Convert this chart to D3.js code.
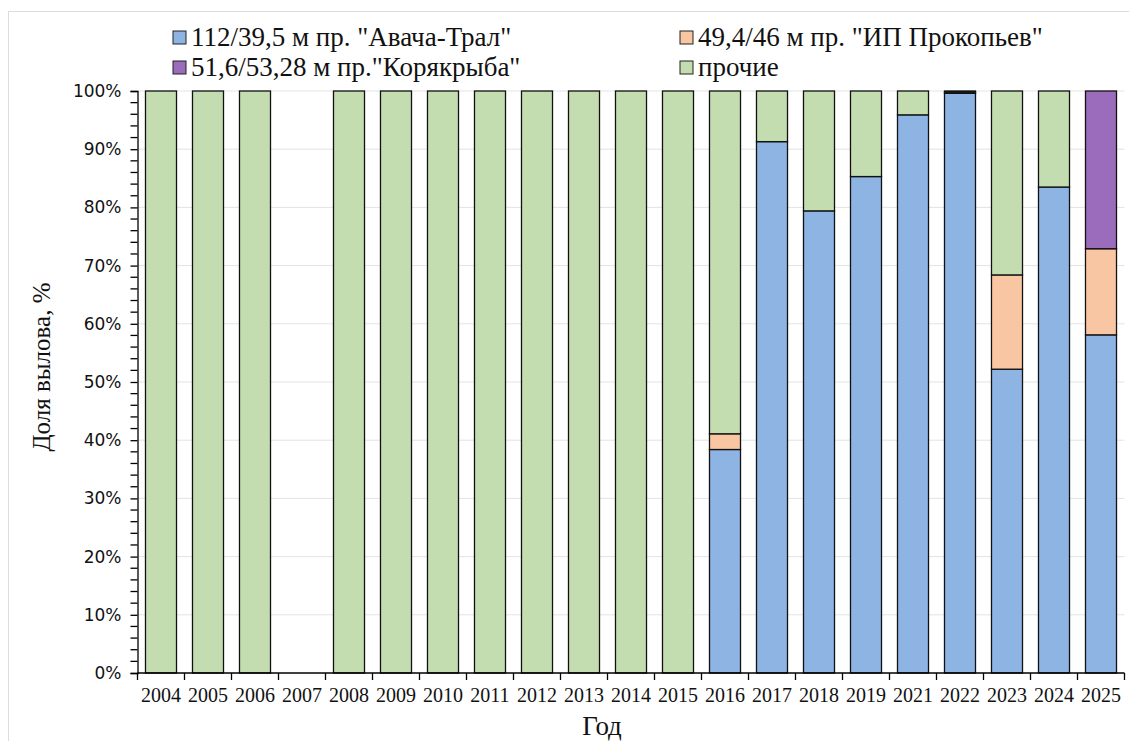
<!DOCTYPE html>
<html>
<head>
<meta charset="utf-8">
<script src="https://cdn.jsdelivr.net/npm/d3@7"></script>
<style>
  body { margin: 0; background: #fff; }
  svg { display: block; }
</style>
</head>
<body>
<div id="chart"></div>
<script>
const years = ["2004","2005","2006","2007","2008","2009","2010","2011","2012","2013","2014","2015","2016","2017","2018","2019","2021","2022","2023","2024","2025"];
const avacha    = [0,0,0,0,0,0,0,0,0,0,0,0,38.4,91.3,79.4,85.3,95.9,99.6,52.2,83.5,58.1];
const prokopiev = [0,0,0,0,0,0,0,0,0,0,0,0,2.7,0,0,0,0,0,16.2,0,14.8];
const koryak    = [0,0,0,0,0,0,0,0,0,0,0,0,0,0,0,0,0,0.2,0,0,27.1];
const prochie   = [100,100,100,0,100,100,100,100,100,100,100,100,58.9,8.7,20.6,14.7,4.1,0.2,31.6,16.5,0];

const seriesNames = ["112/39,5 м пр. \"Авача-Трал\"", "49,4/46 м пр. \"ИП Прокопьев\"", "51,6/53,28 м пр.\"Корякрыба\"", "прочие"];
const seriesColors = ["#8db4e2", "#f8c6a2", "#9a6cbb", "#c4ddb0"];
const yTicks = [0,10,20,30,40,50,60,70,80,90,100];

function initChart() {
    const width = 1129, height = 741;
    const margin = { left: 137.5, right: 4.5, top: 91, bottom: 68 };
    const serif = "'Liberation Serif', 'Times New Roman', serif";

    const svg = d3.select("#chart").append("svg").attr("width", width).attr("height", height);

    // faint outer frame
    svg.append("rect").attr("x", 8.5).attr("y", 11.5).attr("width", 1130).attr("height", 740)
        .attr("fill", "none").attr("stroke", "#dcdcdc").attr("stroke-width", 1);

    const table = years.map((y, i) => ({ year: y, s0: avacha[i], s1: prokopiev[i], s2: koryak[i], s3: prochie[i] }));
    const keys = ["s0", "s1", "s2", "s3"];
    const stacked = d3.stack().keys(keys)(table);

    const x = d3.scaleBand().domain(years).range([margin.left, width - margin.right]).paddingInner(0.34).paddingOuter(0.17);
    const y = d3.scaleLinear().domain([0, 100]).range([height - margin.bottom, margin.top]);

    // gridlines
    svg.append("g").selectAll("line").data(yTicks.slice(1)).join("line")
        .attr("x1", margin.left).attr("x2", width - margin.right)
        .attr("y1", d => y(d)).attr("y2", d => y(d))
        .attr("stroke", "#e3e3e3").attr("stroke-width", 1);

    // bars
    svg.append("g").selectAll("g").data(stacked).join("g")
        .attr("fill", (d, i) => seriesColors[i])
        .selectAll("rect").data(d => d.filter(p => p[1] - p[0] > 0)).join("rect")
        .attr("x", d => x(d.data.year))
        .attr("width", x.bandwidth())
        .attr("y", d => y(d[1]))
        .attr("height", d => y(d[0]) - y(d[1]))
        .attr("stroke", "#111").attr("stroke-width", 1.3);

    // y axis
    const yAxis = svg.append("g").attr("transform", `translate(${margin.left},0)`)
        .call(d3.axisLeft(y).tickValues(yTicks).tickFormat(d => d + "%").tickSize(7).tickPadding(9));
    yAxis.select(".domain").attr("stroke", "#000").attr("stroke-width", 1.3);
    yAxis.selectAll(".tick line").attr("stroke", "#000").attr("stroke-width", 1.3);
    yAxis.selectAll("text").style("font-family", "'DejaVu Sans', Tahoma, sans-serif").style("font-size", "17px").attr("fill", "#111");
    // minor ticks
    yAxis.append("g").selectAll("line").data(d3.range(0, 101, 2).filter(v => v % 10 !== 0)).join("line")
        .attr("x1", -7).attr("x2", 0).attr("y1", d => y(d)).attr("y2", d => y(d))
        .attr("stroke", "#000").attr("stroke-width", 1.3);

    // x axis
    const xAxisG = svg.append("g").attr("transform", `translate(0,${height - margin.bottom})`);
    xAxisG.append("line").attr("x1", margin.left).attr("x2", width - margin.right).attr("stroke", "#000").attr("stroke-width", 1.3);
    const step = x.step();
    const bounds = years.map(yr => x(yr) - step * x.paddingInner() / 2).concat([width - margin.right]);
    xAxisG.selectAll("line.tk").data(bounds).join("line").attr("class", "tk")
        .attr("x1", d => d).attr("x2", d => d).attr("y1", 0).attr("y2", 7)
        .attr("stroke", "#000").attr("stroke-width", 1.3);
    xAxisG.selectAll("text").data(years).join("text")
        .attr("x", d => x(d) + x.bandwidth() / 2).attr("y", 29)
        .attr("text-anchor", "middle")
        .style("font-family", serif).style("font-size", "20px").attr("fill", "#111")
        .text(d => d);

    // axis titles
    svg.append("text").attr("x", 602).attr("y", 735).attr("text-anchor", "middle")
        .style("font-family", serif).style("font-size", "27px").attr("fill", "#111").text("Год");
    svg.append("text").attr("transform", `translate(50,${(y(0) + y(100)) / 2 - 15}) rotate(-90)`).attr("text-anchor", "middle")
        .style("font-family", serif).style("font-size", "25px").attr("fill", "#111").text("Доля вылова, %");

    // legend
    const legendPos = [[173, 38], [680, 38], [173, 68], [680, 68]];
    const lg = svg.append("g").selectAll("g").data([0, 1, 2, 3]).join("g")
        .attr("transform", d => `translate(${legendPos[d][0]},${legendPos[d][1]})`);
    lg.append("rect").attr("x", 0).attr("y", -7).attr("width", 13).attr("height", 13)
        .attr("fill", d => seriesColors[d]).attr("stroke", "#222").attr("stroke-width", 1);
    lg.append("text").attr("x", 18).attr("y", 8)
        .style("font-family", serif).style("font-size", "27px").attr("fill", "#111")
        .text(d => seriesNames[d]);
}

initChart();
</script>
</body>
</html>
